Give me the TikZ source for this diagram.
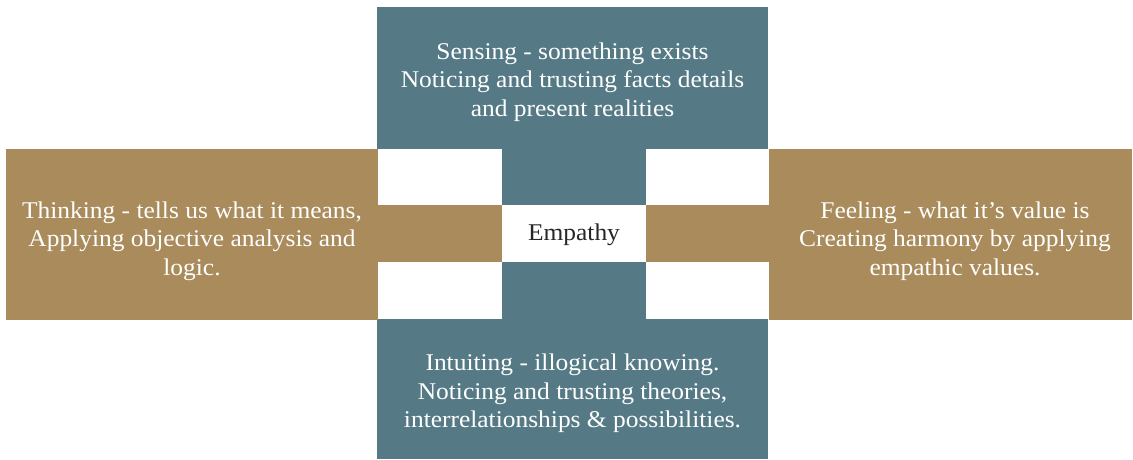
\documentclass[tikz,border=0pt]{standalone}
\usepackage{fontspec}
\setmainfont{Liberation Serif}[FakeStretch=1.06]
\definecolor{teal}{RGB}{85,122,134}
\definecolor{tan}{RGB}{169,139,92}
\tikzset{
  lbl/.style={text=white,align=center,font=\fontsize{24}{28.5}\selectfont,inner sep=0pt},
}
\begin{document}
\begin{tikzpicture}[x=1pt,y=-1pt]
\useasboundingbox[fill=white] (0,0) rectangle (1133,459);
% teal blocks
\fill[teal] (377,7) rectangle (768,149);
\fill[teal] (377,319) rectangle (768,459);
\fill[teal] (502,148) rectangle (646,320);
% tan blocks
\fill[tan] (6,149) rectangle (378,320);
\fill[tan] (769,149) rectangle (1132,320);
\fill[tan] (377,205) rectangle (769,262);
% centre
\fill[white] (502,205) rectangle (646,262);
\node[font=\fontsize{24}{28}\selectfont,text=black!85,inner sep=0pt] (emp) at (574,235) {Empathy};
\node[lbl] (sens) at (572.5,82) {Sensing - something exists\\Noticing and trusting facts details\\and present realities};
\node[lbl] (think) at (192,241) {Thinking - tells us what it means,\\Applying objective analysis and\\logic.};
\node[lbl] (feel) at (955,241) {Feeling - what it's value is\\Creating harmony by applying\\empathic values.};
\node[lbl] (intu) at (572.5,393.5) {Intuiting - illogical knowing.\\Noticing and trusting theories,\\interrelationships \& possibilities.};
\end{tikzpicture}
\end{document}
